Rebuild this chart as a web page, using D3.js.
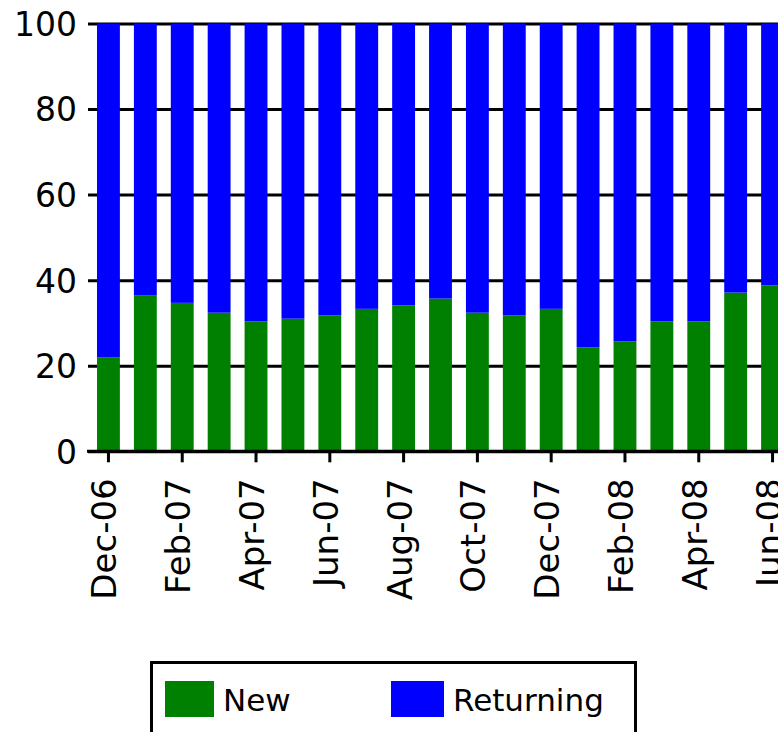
<!DOCTYPE html>
<html>
<head>
<meta charset="utf-8">
<script src="https://cdn.jsdelivr.net/npm/d3@7"></script>
<style>
	body { margin:0; background:#fff; }
	svg { display:block; }
	text { font-family:"DejaVu Sans", sans-serif; fill:#000; }
	.t_y { font-size:33px; }
	.t_month { font-size:34px; }
	.t_legend { font-size:31px; }
</style>
</head>
<body>
<svg width="778" height="732"></svg>
<script>
/* ----------------------------------------------------------
data
---------------------------------------------------------- */
var months = ["Dec-06","Jan-07","Feb-07","Mar-07","Apr-07","May-07","Jun-07","Jul-07","Aug-07","Sep-07",
	"Oct-07","Nov-07","Dec-07","Jan-08","Feb-08","Mar-08","Apr-08","May-08","Jun-08"];
var newVals = [22,36.4,34.7,32.4,30.4,31,31.8,33.3,34.1,35.7,32.4,31.8,33.3,24.3,25.7,30.4,30.4,37.1,38.8];
var returningVals = newVals.map(function(d){ return 100 - d; });
var yTicks = [0,20,40,60,80,100];
var legendVals = ["New","Returning"];
var color = ["#008000","#0000ff"];

/* ----------------------------------------------------------
setting
---------------------------------------------------------- */
var svg = d3.select("svg");
var left = 90, right = 791;

var x = d3.scaleBand().domain(months).range([left, right]).paddingInner(0.38).paddingOuter(0.19);
var y = d3.scaleLinear().domain([0,100]).range([451.3, 23.5]);

//grid
var yAxis = d3.axisLeft(y).tickValues(yTicks).tickSize(-(right - 88)).tickPadding(11);
var gy = svg.append("g").attr("transform","translate(88,0)").call(yAxis);
gy.select(".domain").remove();
gy.selectAll(".tick line").attr("stroke","#000").attr("stroke-width",3);
gy.selectAll(".tick text").attr("class","t_y").attr("dy","0.36em").style("font-size",null).style("font-family",null);
gy.attr("font-size",null).attr("font-family",null);

//bars
var rows = months.map(function(m,i){ return {month:m, New:newVals[i], Returning:returningVals[i]}; });
var stack = d3.stack().keys(legendVals)(rows);
svg.append("g").selectAll("g")
	.data(stack).enter().append("g")
	.attr("fill", function(d,i){ return color[i]; })
	.selectAll("rect")
	.data(function(d){ return d; }).enter().append("rect")
	.attr("x", function(d){ return x(d.data.month); })
	.attr("width", x.bandwidth())
	.attr("y", function(d){ return y(d[1]); })
	.attr("height", function(d){ return y(d[0]) - y(d[1]); });

//x axis
var xAxis = d3.axisBottom(x)
	.tickValues(months.filter(function(d,i){ return i % 2 == 0; }))
	.tickSizeInner(11).tickSizeOuter(0);
var gx = svg.append("g").attr("transform","translate(0," + y(0) + ")").call(xAxis);
gx.attr("font-size",null).attr("font-family",null);
gx.select(".domain").remove();
gx.append("line").attr("x1",87).attr("x2",right).attr("stroke","#000").attr("stroke-width",3);
gx.selectAll(".tick line").attr("stroke","#000").attr("stroke-width",3);
gx.selectAll(".tick text")
	.attr("class","t_month")
	.attr("transform","rotate(-90)")
	.attr("x",-27).attr("y",8).attr("dy",0)
	.style("text-anchor","end");

//legend
svg.append("rect").attr("x",151.5).attr("y",662.5).attr("width",484).attr("height",120)
	.attr("fill","#fff").attr("stroke","#000").attr("stroke-width",3);
var legX = [165,391];
var legs = svg.selectAll(".legends").data(legendVals).enter().append("g")
	.attr("class","legends")
	.attr("transform", function(d,i){ return "translate(" + legX[i] + ",681)"; });
legs.append("rect").attr("width", function(d,i){ return i == 0 ? 49 : 53; }).attr("height",36)
	.style("fill", function(d,i){ return color[i]; });
legs.append("text").attr("class","t_legend")
	.attr("x", function(d,i){ return i == 0 ? 58 : 62; }).attr("y",30)
	.text(function(d){ return d; });
</script>
</body>
</html>
